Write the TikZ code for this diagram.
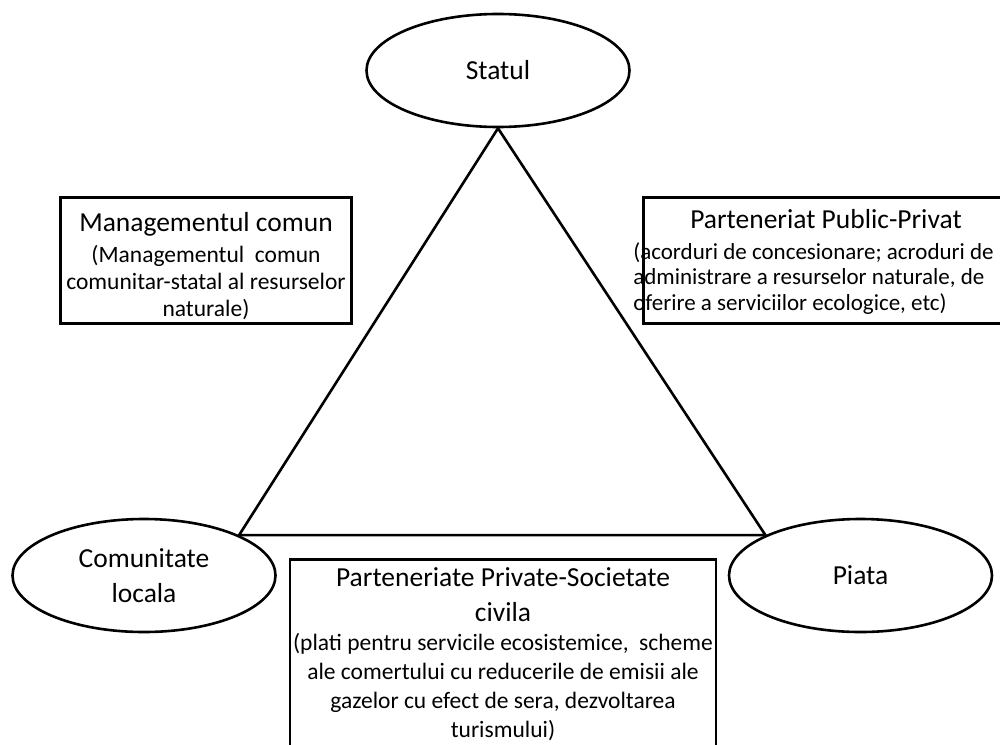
\documentclass[tikz,border=0pt]{standalone}
\usepackage{fontspec}
\setmainfont{Carlito}
\usetikzlibrary{positioning, shapes.geometric}

\begin{document}
\begin{tikzpicture}[x=1pt, y=-1pt, line width=2.6pt,
   actor/.style={draw, ellipse, minimum width=263pt, minimum height=113pt, align=center,
                 font=\fontsize{27.5}{35}\selectfont},
   box/.style={draw, align=center, inner sep=3pt},
   title/.style={font=\fontsize{27.5}{35}\selectfont},
   note/.style={font=\fontsize{23.5}{27}\selectfont}]
  \useasboundingbox (0,0) rectangle (1000,744);
  % the three actors
  \node[actor] (stat) at (498,70.5) {Statul};
  \node[actor] (com) at (144,575.5) {Comunitate\\locala};
  \node[actor] (piata) at (860.5,575.5) {Piata};
  \draw (stat.south) -- (piata.157) -- (com.23) -- cycle;
  % partnerships
  \node[box, note, minimum width=291.4pt, minimum height=126.4pt] (mgmt) at (206,260.5)
    {\rule{0pt}{31pt}{\fontsize{27.5}{35}\selectfont Managementul comun}\\[4pt]
     (Managementul\ \ comun\\ comunitar-statal al resurselor\\ naturale)};
  \node[box, minimum width=365.4pt, minimum height=126.4pt] (ppp) at (826,260.5) {};
  \node[title, anchor=base] (ppptitle) at (826,228) {Parteneriat Public-Privat};
  \node[anchor=north west, align=left, inner sep=0pt, font=\fontsize{23}{25.5}\selectfont] (pppnote)
    at (632,241) {(acorduri de concesionare; acroduri de\\ administrare a resurselor naturale, de\\
     oferire a serviciilor ecologice, etc)};
  \node[box, anchor=north, minimum width=425.4pt, inner ysep=8pt, font=\fontsize{23.5}{29}\selectfont]
    (psc) at (503,558)
    {{\fontsize{27.5}{35}\selectfont Parteneriate Private-Societate}\\[6pt]
     {\fontsize{27.5}{35}\selectfont civila}\\
     (plati pentru servicile ecosistemice,\ \ scheme\\ ale comertului cu reducerile de emisii ale\\
     gazelor cu efect de sera, dezvoltarea\\ turismului)};
\end{tikzpicture}
\end{document}
